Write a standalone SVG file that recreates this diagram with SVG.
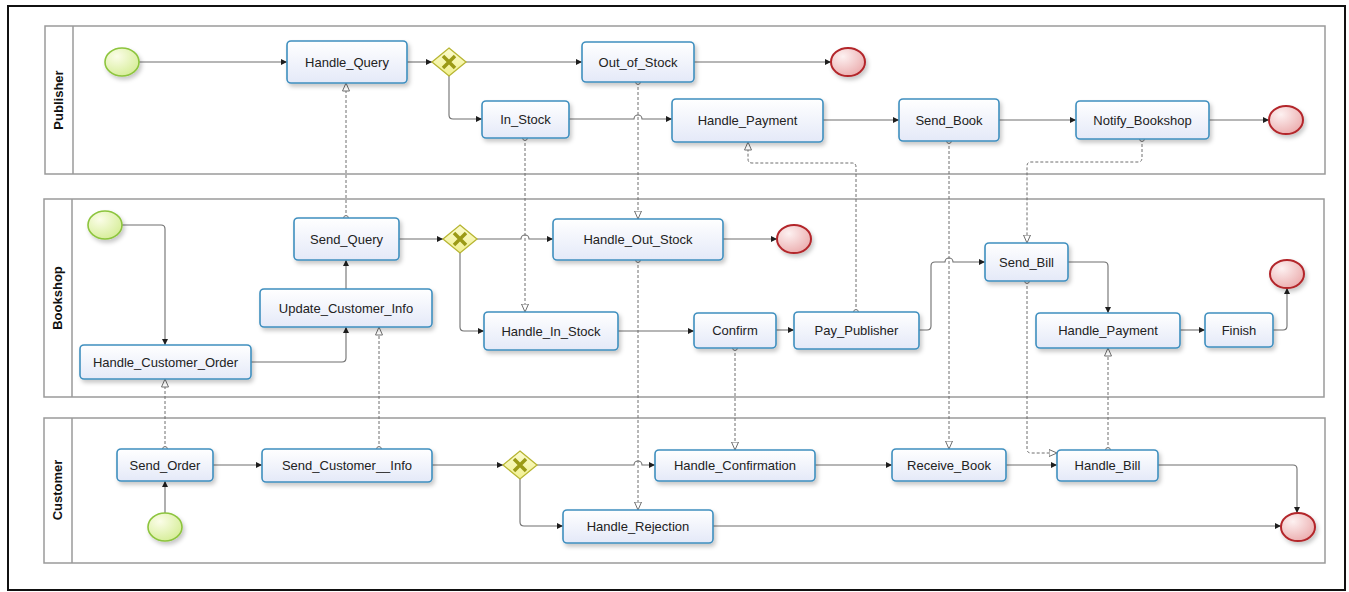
<svg xmlns="http://www.w3.org/2000/svg" width="1349" height="592" viewBox="0 0 1349 592">
  <style>
    .pool { fill: #ffffff; stroke: #9a9a9a; stroke-width: 1.5; }
    .lane-head { stroke: #9a9a9a; stroke-width: 1.5; }
    .lane-label { font-family: "Liberation Sans", Arial, sans-serif; font-size: 13px; font-weight: bold; fill: #111; text-anchor: middle; }
    .task rect { fill: url(#taskFill); stroke: #3f8fbf; stroke-width: 1.6; filter: url(#shadow); }
    .task text { font-family: "Liberation Sans", Arial, sans-serif; font-size: 13px; fill: #222; text-anchor: middle; dominant-baseline: central; }
    .start ellipse { fill: url(#startFill); stroke: #8cc43c; stroke-width: 1.6; filter: url(#shadow); }
    .end ellipse { fill: url(#endFill); stroke: #b3262b; stroke-width: 2; filter: url(#shadow); }
    .gateway polygon { fill: url(#gwFill); stroke: #b7b531; stroke-width: 1.3; }
    .gateway path { stroke: #9b9a16; stroke-width: 3.5; stroke-linecap: butt; fill: none; }
    .seq { fill: none; stroke: #6f6f6f; stroke-width: 1.1; marker-end: url(#seqArrow); }
    .msg { fill: none; stroke: #6f6f6f; stroke-width: 1; stroke-dasharray: 3 2; marker-start: url(#msgSrc); marker-end: url(#msgArrow); }
  </style>
  <defs>
    <linearGradient id="taskFill" x1="0" y1="0" x2="0" y2="1">
      <stop offset="0" stop-color="#ffffff"/>
      <stop offset="1" stop-color="#e4e9f8"/>
    </linearGradient>
    <radialGradient id="startFill" cx="0.35" cy="0.3" r="0.8">
      <stop offset="0" stop-color="#fbfde8"/>
      <stop offset="1" stop-color="#d3ec92"/>
    </radialGradient>
    <radialGradient id="endFill" cx="0.35" cy="0.3" r="0.8">
      <stop offset="0" stop-color="#fdf1f1"/>
      <stop offset="1" stop-color="#eaa9aa"/>
    </radialGradient>
    <linearGradient id="gwFill" x1="0" y1="0" x2="0" y2="1">
      <stop offset="0" stop-color="#fbfbd0"/>
      <stop offset="1" stop-color="#f1f08e"/>
    </linearGradient>
    <filter id="shadow" x="-20%" y="-30%" width="150%" height="170%">
      <feDropShadow dx="2" dy="3" stdDeviation="2" flood-color="#000" flood-opacity="0.22"/>
    </filter>
    <marker id="seqArrow" markerUnits="userSpaceOnUse" markerWidth="7" markerHeight="7" refX="6" refY="3" orient="auto">
      <path d="M0,0 L6,3 L0,6 z" fill="#1e1e1e"/>
    </marker>
    <marker id="msgArrow" markerUnits="userSpaceOnUse" markerWidth="10" markerHeight="10" refX="8.5" refY="4" orient="auto">
      <path d="M0.5,0.5 L8.5,4 L0.5,7.5 z" fill="#ffffff" stroke="#6f6f6f" stroke-width="1"/>
    </marker>
    <marker id="msgSrc" markerUnits="userSpaceOnUse" markerWidth="8" markerHeight="8" refX="4" refY="4" orient="auto">
      <circle cx="4" cy="4" r="2.4" fill="#ffffff" stroke="#6f6f6f" stroke-width="1"/>
    </marker>
  </defs>

  <!-- frame -->
  <rect x="8" y="6" width="1337" height="584" fill="#ffffff" stroke="#111" stroke-width="2"/>

  <!-- pools -->
  <g id="pool-publisher">
    <rect class="pool" x="45" y="26" width="1280" height="148"/>
    <line class="lane-head" x1="73" y1="26" x2="73" y2="174"/>
    <text class="lane-label" transform="translate(63,100) rotate(-90)">Publisher</text>
  </g>
  <g id="pool-bookshop">
    <rect class="pool" x="44" y="199" width="1280" height="198"/>
    <line class="lane-head" x1="72" y1="199" x2="72" y2="397"/>
    <text class="lane-label" transform="translate(62,298) rotate(-90)">Bookshop</text>
  </g>
  <g id="pool-customer">
    <rect class="pool" x="44" y="418" width="1281" height="145"/>
    <line class="lane-head" x1="72" y1="418" x2="72" y2="563"/>
    <text class="lane-label" transform="translate(62,490) rotate(-90)">Customer</text>
  </g>

  <!-- connectors -->
  <g id="connectors">
    <!-- sequence flows: Publisher -->
    <path class="seq" d="M139,62 H287"/>
    <path class="seq" d="M407,62 H432"/>
    <path class="seq" d="M466,62 H582"/>
    <path class="seq" d="M449,76 V115 Q449,119 453,119 H482"/>
    <path class="seq" d="M694,62 H831"/>
    <path class="seq" d="M569,119 H634 A4,4 0 0 1 642,119 H672"/>
    <path class="seq" d="M823,120 H899"/>
    <path class="seq" d="M999,120 H1076"/>
    <path class="seq" d="M1209,120 H1269"/>
    <!-- sequence flows: Bookshop -->
    <path class="seq" d="M122,225 H161 Q165,225 165,229 V345"/>
    <path class="seq" d="M251,362 H342 Q346,362 346,358 V327"/>
    <path class="seq" d="M346,289 V260"/>
    <path class="seq" d="M399,239 H443"/>
    <path class="seq" d="M477,239 H521 A4,4 0 0 1 529,239 H553"/>
    <path class="seq" d="M723,239 H777"/>
    <path class="seq" d="M460,253 V327 Q460,331 464,331 H484"/>
    <path class="seq" d="M618,331 H694"/>
    <path class="seq" d="M776,330 H794"/>
    <path class="seq" d="M919,330 H927 Q931,330 931,326 V266 Q931,262 935,262 H945 A4,4 0 0 1 953,262 H985"/>
    <path class="seq" d="M1068,262 H1104 Q1108,262 1108,266 V313"/>
    <path class="seq" d="M1180,330 H1205"/>
    <path class="seq" d="M1273,330 H1283 Q1287,330 1287,326 V288"/>
    <!-- sequence flows: Customer -->
    <path class="seq" d="M165,513 V481"/>
    <path class="seq" d="M213,465 H262"/>
    <path class="seq" d="M432,465 H503"/>
    <path class="seq" d="M537,465 H634 A4,4 0 0 1 642,465 H655"/>
    <path class="seq" d="M520,479 V522 Q520,526 524,526 H563"/>
    <path class="seq" d="M713,526 H1281"/>
    <path class="seq" d="M815,465 H892"/>
    <path class="seq" d="M1006,465 H1057"/>
    <path class="seq" d="M1158,465 H1293 Q1297,465 1297,469 V513"/>

    <!-- message flows -->
    <path class="msg" d="M346,218 V83"/>
    <path class="msg" d="M638,82 V219"/>
    <path class="msg" d="M525,138 V312"/>
    <path class="msg" d="M856,312 V167 Q856,163 852,163 H752 Q748,163 748,159 V142"/>
    <path class="msg" d="M949,141 V449"/>
    <path class="msg" d="M1142,139 V158 Q1142,162 1138,162 H1031 Q1027,162 1027,166 V243"/>
    <path class="msg" d="M1027,281 V449 Q1027,453 1031,453 H1057"/>
    <path class="msg" d="M1108,450 V348"/>
    <path class="msg" d="M735,348 V450"/>
    <path class="msg" d="M638,260 V510"/>
    <path class="msg" d="M165,449 V379"/>
    <path class="msg" d="M379,449 V327"/>
  </g>

  <!-- Publisher nodes -->
  <g id="pub-start" class="start"><ellipse cx="122" cy="62" rx="17" ry="14"/></g>
  <g id="handle-query" class="task"><rect x="287" y="41" width="120" height="42" rx="4"/><text x="347" y="62">Handle_Query</text></g>
  <g id="pub-gateway" class="gateway" transform="translate(449,62)"><polygon points="0,-14 17,0 0,14 -17,0"/><path d="M-6,-6 L6,6 M6,-6 L-6,6"/></g>
  <g id="out-of-stock" class="task"><rect x="582" y="42" width="112" height="40" rx="4"/><text x="638" y="62">Out_of_Stock</text></g>
  <g id="pub-end-1" class="end"><ellipse cx="848" cy="62" rx="17" ry="14"/></g>
  <g id="in-stock" class="task"><rect x="482" y="101" width="87" height="37" rx="4"/><text x="525.5" y="119.5">In_Stock</text></g>
  <g id="pub-handle-payment" class="task"><rect x="672" y="99" width="151" height="43" rx="4"/><text x="747.5" y="120.5">Handle_Payment</text></g>
  <g id="send-book" class="task"><rect x="899" y="99" width="100" height="42" rx="4"/><text x="949" y="120">Send_Book</text></g>
  <g id="notify-bookshop" class="task"><rect x="1076" y="101" width="133" height="38" rx="4"/><text x="1142.5" y="120">Notify_Bookshop</text></g>
  <g id="pub-end-2" class="end"><ellipse cx="1286" cy="120" rx="17" ry="14"/></g>

  <!-- Bookshop nodes -->
  <g id="shop-start" class="start"><ellipse cx="105" cy="225" rx="17" ry="14"/></g>
  <g id="handle-customer-order" class="task"><rect x="80" y="345" width="171" height="34" rx="4"/><text x="165.5" y="362">Handle_Customer_Order</text></g>
  <g id="send-query" class="task"><rect x="294" y="218" width="105" height="42" rx="4"/><text x="346.5" y="239">Send_Query</text></g>
  <g id="update-customer-info" class="task"><rect x="260" y="289" width="172" height="38" rx="4"/><text x="346" y="308">Update_Customer_Info</text></g>
  <g id="shop-gateway" class="gateway" transform="translate(460,239)"><polygon points="0,-14 17,0 0,14 -17,0"/><path d="M-6,-6 L6,6 M6,-6 L-6,6"/></g>
  <g id="handle-out-stock" class="task"><rect x="553" y="219" width="170" height="41" rx="4"/><text x="638" y="239.5">Handle_Out_Stock</text></g>
  <g id="shop-end-1" class="end"><ellipse cx="794" cy="239" rx="17" ry="14"/></g>
  <g id="handle-in-stock" class="task"><rect x="484" y="312" width="134" height="38" rx="4"/><text x="551" y="331">Handle_In_Stock</text></g>
  <g id="confirm" class="task"><rect x="694" y="313" width="82" height="35" rx="4"/><text x="735" y="330.5">Confirm</text></g>
  <g id="pay-publisher" class="task"><rect x="794" y="312" width="125" height="37" rx="4"/><text x="856.5" y="330.5">Pay_Publisher</text></g>
  <g id="send-bill" class="task"><rect x="985" y="243" width="83" height="38" rx="4"/><text x="1026.5" y="262">Send_Bill</text></g>
  <g id="shop-handle-payment" class="task"><rect x="1036" y="313" width="144" height="35" rx="4"/><text x="1108" y="330.5">Handle_Payment</text></g>
  <g id="finish" class="task"><rect x="1205" y="313" width="68" height="34" rx="4"/><text x="1239" y="330">Finish</text></g>
  <g id="shop-end-2" class="end"><ellipse cx="1287" cy="274" rx="17" ry="14"/></g>

  <!-- Customer nodes -->
  <g id="send-order" class="task"><rect x="117" y="449" width="96" height="32" rx="4"/><text x="165" y="465">Send_Order</text></g>
  <g id="cust-start" class="start"><ellipse cx="165" cy="527" rx="17" ry="14"/></g>
  <g id="send-customer-info" class="task"><rect x="262" y="449" width="170" height="33" rx="4"/><text x="347" y="465.5">Send_Customer__Info</text></g>
  <g id="cust-gateway" class="gateway" transform="translate(520,465)"><polygon points="0,-14 17,0 0,14 -17,0"/><path d="M-6,-6 L6,6 M6,-6 L-6,6"/></g>
  <g id="handle-confirmation" class="task"><rect x="655" y="450" width="160" height="31" rx="4"/><text x="735" y="465.5">Handle_Confirmation</text></g>
  <g id="handle-rejection" class="task"><rect x="563" y="510" width="150" height="33" rx="4"/><text x="638" y="526.5">Handle_Rejection</text></g>
  <g id="receive-book" class="task"><rect x="892" y="449" width="114" height="32" rx="4"/><text x="949" y="465">Receive_Book</text></g>
  <g id="handle-bill" class="task"><rect x="1057" y="450" width="101" height="31" rx="4"/><text x="1107.5" y="465.5">Handle_Bill</text></g>
  <g id="cust-end" class="end"><ellipse cx="1298" cy="527" rx="17" ry="14"/></g>
</svg>
